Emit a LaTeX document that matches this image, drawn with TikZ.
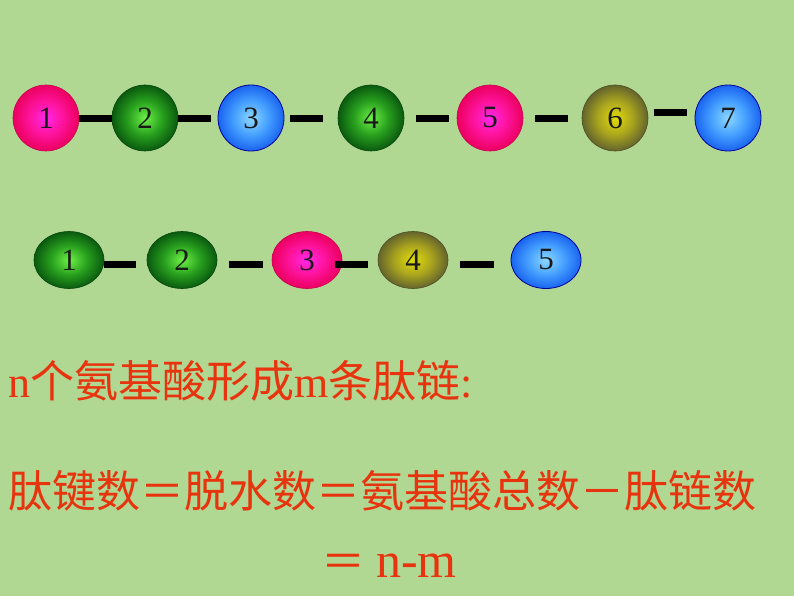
\documentclass[tikz,border=0pt]{standalone}
\usepackage{fontspec}
\setmainfont{Liberation Serif}
\newfontfamily\cjk{Noto Sans CJK SC}
\definecolor{bgreen}{RGB}{177,216,147}
\definecolor{txtred}{RGB}{232,52,14}
\definecolor{pinkin}{RGB}{255,40,235}
\definecolor{pinkmid}{RGB}{255,20,160}
\definecolor{pinkout}{RGB}{235,0,95}
\definecolor{grnin}{RGB}{110,240,70}
\definecolor{grnmid}{RGB}{40,160,30}
\definecolor{grnout}{RGB}{10,90,15}
\definecolor{olvin}{RGB}{225,220,10}
\definecolor{olvmid}{RGB}{170,165,30}
\definecolor{olvout}{RGB}{100,100,45}
\definecolor{bluin}{RGB}{140,215,255}
\definecolor{blumid}{RGB}{70,160,255}
\definecolor{bluout}{RGB}{25,100,240}
\pgfdeclareradialshading{pinkball}{\pgfpoint{0bp}{0bp}}{color(0bp)=(pinkin); color(12bp)=(pinkmid); color(25bp)=(pinkout); color(50bp)=(pinkout)}
\pgfdeclareradialshading{grnball}{\pgfpoint{0bp}{0bp}}{color(0bp)=(grnin); color(13bp)=(grnmid); color(25bp)=(grnout); color(50bp)=(grnout)}
\pgfdeclareradialshading{olvball}{\pgfpoint{0bp}{0bp}}{color(0bp)=(olvin); color(13bp)=(olvmid); color(25bp)=(olvout); color(50bp)=(olvout)}
\pgfdeclareradialshading{bluball}{\pgfpoint{0bp}{0bp}}{color(0bp)=(bluin); color(13bp)=(blumid); color(25bp)=(bluout); color(50bp)=(bluout)}
\tikzset{
  acid/.style={inner sep=0pt,font=\fontsize{31}{31}\selectfont,text=black!90},
  ball/.style={acid,circle,minimum size=66pt},
  egg/.style={acid,ellipse,minimum width=70pt,minimum height=57pt},
  pk/.style={shading=pinkball,draw=pinkout!85!black,line width=0.6pt},
  gn/.style={shading=grnball,draw=grnout!80!black,line width=0.6pt},
  ol/.style={shading=olvball,draw=olvout!80!black,line width=0.6pt},
  bl/.style={shading=bluball,draw=blue!60!black,line width=0.8pt},
  bond/.style={line width=7pt,black},
  slogan/.style={anchor=west,inner sep=0pt,text=txtred,font=\fontsize{44}{50}\selectfont}
}
\usetikzlibrary{shapes.geometric}
\begin{document}
\begin{tikzpicture}[x=1pt,y=-1pt]
        \fill[bgreen](0,0)rectangle(794,596);
        \useasboundingbox(0,0)rectangle(794,596);
        \node[ball,pk](a1)at(46,118){1};
        \node[ball,gn](a2)at(145,118){2};
        \node[ball,bl](a3)at(251,118){3};
        \node[ball,gn](a4)at(371,118){4};
        \node[ball,pk](a5)at(490,118){5};
        \node[ball,ol](a6)at(615,118){6};
        \node[ball,bl](a7)at(728,118){7};
        \draw[bond]([yshift=-1pt]a1.east)--([yshift=-1pt]a2.west);
        \draw[bond]([yshift=-1pt]a2.east)--([xshift=-7pt,yshift=-1pt]a3.west);
        \draw[bond]([xshift=6pt,yshift=-1pt]a3.east)--([xshift=-15pt,yshift=-1pt]a4.west);
        \draw[bond]([xshift=12pt,yshift=-1pt]a4.east)--([xshift=-8pt,yshift=-1pt]a5.west);
        \draw[bond]([xshift=12pt,yshift=-1pt]a5.east)--([xshift=-14pt,yshift=-1pt]a6.west);
        \draw[bond]([xshift=6pt,yshift=5pt]a6.east)--([xshift=-8pt,yshift=5pt]a7.west);
        \node[egg,gn](b1)at(69,260){1};
        \node[egg,gn](b2)at(182,260){2};
        \node[egg,pk](b3)at(307,260){3};
        \node[egg,ol](b4)at(413,260){4};
        \node[egg,bl](b5)at(546,260){5};
        \draw[bond]([yshift=-4pt]b1.east)--([xshift=-11pt,yshift=-4pt]b2.west);
        \draw[bond]([xshift=12pt,yshift=-4pt]b2.east)--([xshift=-9pt,yshift=-4pt]b3.west);
        \draw[bond]([xshift=-7pt,yshift=-4pt]b3.east)--([xshift=-10pt,yshift=-4pt]b4.west);
        \draw[bond]([xshift=12pt,yshift=-4pt]b4.east)--([xshift=-17pt,yshift=-4pt]b5.west);
        \node[slogan](rule)at(8,381){n{\cjk 个氨基酸形成}m{\cjk 条肽链}:};
        \node[slogan](eq)at(8,491){\cjk 肽键数＝脱水数＝氨基酸总数－肽链数};
        \node[slogan](res)at(321,566){{\cjk ＝} {\fontsize{50}{50}\selectfont n-m}};
\end{tikzpicture}
\end{document}
